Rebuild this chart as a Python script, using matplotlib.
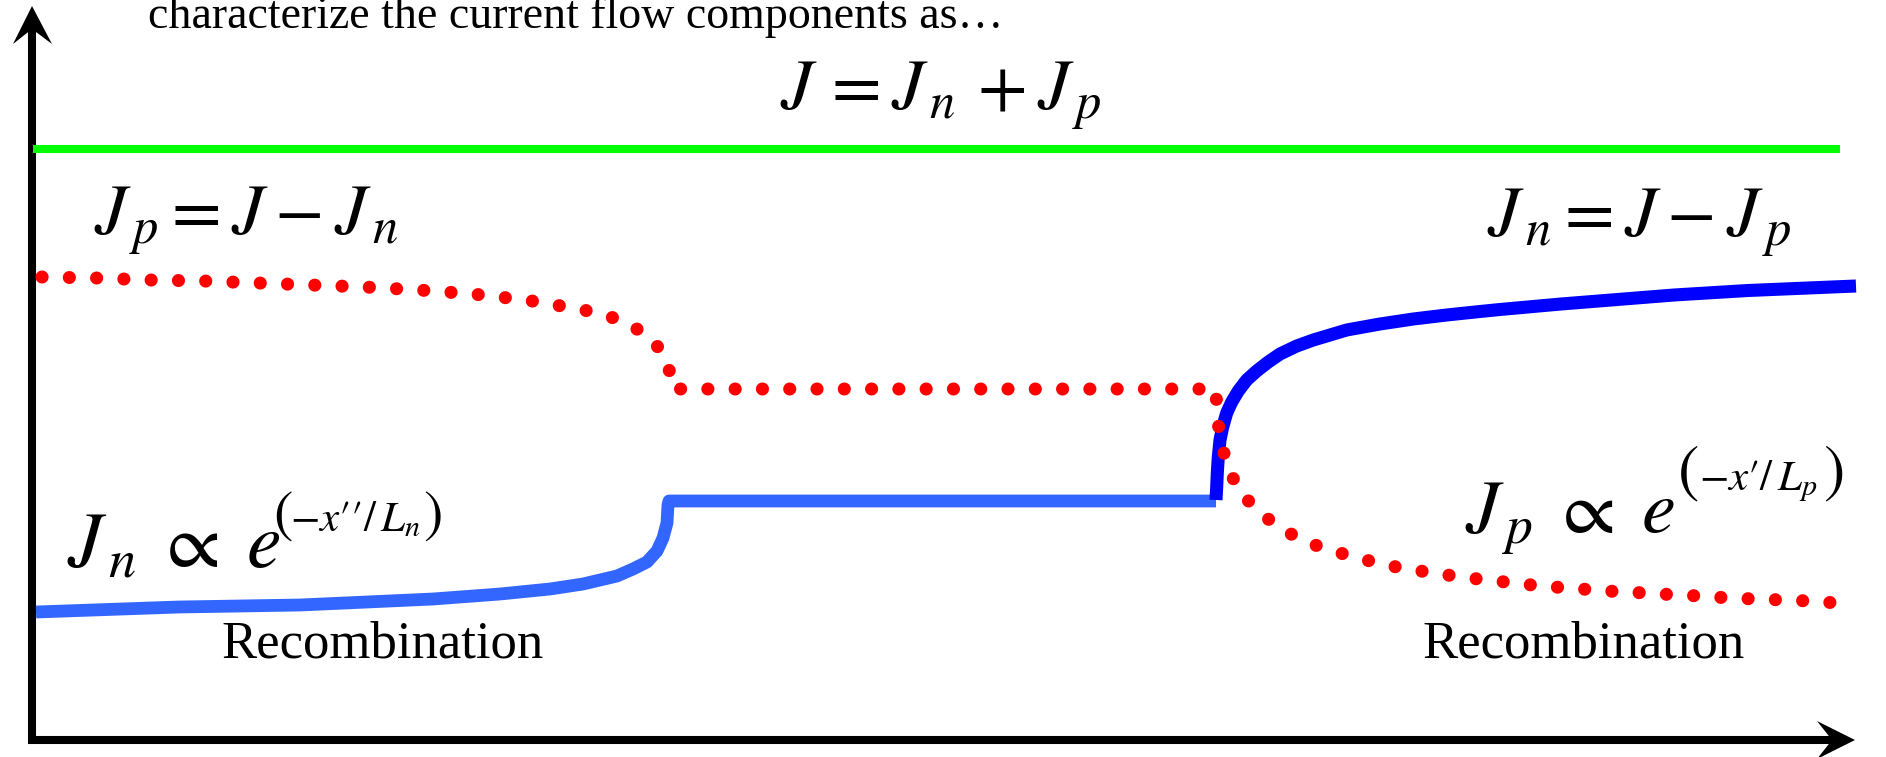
import matplotlib
matplotlib.use("Agg")
import matplotlib.pyplot as plt
from matplotlib.patches import Polygon

plt.rcParams['mathtext.fontset'] = 'stix'
plt.rcParams['font.family'] = ['Liberation Serif', 'DejaVu Serif']

# total current density, constant across the device
x_total = [1, 1808]
j_total = [591, 591]

# hole current: near J on the n side, flat across the depletion region, decays on the p side
x_hole = [10, 64, 118, 171, 226, 279, 333, 387, 441, 494, 547, 574, 599, 621, 636, 640,
          1184, 1185, 1189, 1196, 1208, 1227, 1248, 1272, 1297, 1323, 1349, 1375, 1402,
          1429, 1455, 1482, 1509, 1536, 1563, 1590, 1616, 1644, 1670, 1697, 1724, 1751,
          1778, 1805]
j_hole = [463, 462, 460, 459, 457, 455, 453, 450, 446, 440, 431, 425, 415, 400, 378, 351,
          351, 324, 298, 272, 248, 228, 212, 199, 190, 183, 176, 171, 167,
          163, 160, 157, 154, 152, 150, 148, 147, 145, 144, 142, 141, 140,
          139, 137]

# electron current, minority side (recombination) up to the end of the depletion region
x_elec_left = [4, 147, 268, 335, 401, 468, 518, 551, 585, 601, 615, 625, 631, 635, 636, 637, 1184]
j_elec_left = [128, 133, 135, 138, 141, 146, 151, 156, 164, 171, 178, 189, 202, 217, 235, 239, 239]

# electron current on the n side, J - Jp
x_elec_right = [1184, 1184.7, 1185.3, 1186.3, 1188, 1190.7, 1194.7, 1199.7, 1206.3, 1214.7,
                1224.7, 1236.3, 1248, 1264.7, 1281.3, 1298, 1314.7, 1331.3, 1348, 1381.3,
                1414.7, 1448, 1468, 1529, 1642, 1716, 1824]
j_elec_right = [240, 253, 267, 283, 300, 313, 327, 338, 349, 360,
                369, 378, 386, 394, 400, 405, 410, 413, 416, 421,
                425, 428.5, 430.5, 436, 445, 449.5, 454]

fig = plt.figure(figsize=(18.86, 7.57), dpi=100)
ax = fig.add_axes([0, 0, 1, 1])
ax.set_xlim(-32, 1854)
ax.set_ylim(-17, 740)
ax.axis('off')

# axes drawn as arrows
ax.plot([0, 0], [-4, 712], color='black', lw=5.8, solid_capstyle='butt')
ax.plot([-4, 1800], [0, 0], color='black', lw=5.8, solid_capstyle='butt')
ax.add_patch(Polygon([[0, 734], [-19, 696], [0, 711], [20, 696]], closed=True,
                     color='black', lw=0))
ax.add_patch(Polygon([[1823, 0], [1785, 19], [1800, 0], [1785, -19]], closed=True,
                     color='black', lw=0))

ax.plot(x_total, j_total, color='#00ff00', lw=5.8, solid_capstyle='butt')
ax.plot(x_elec_left, j_elec_left, color='#3366ff', lw=9.2, solid_capstyle='butt',
        solid_joinstyle='round')
ax.plot(x_elec_right, j_elec_right, color='#0000ff', lw=9.4, solid_capstyle='butt',
        solid_joinstyle='round')
ax.plot(x_hole, j_hole, color='#ff0000', lw=9.4, linestyle=(0, (0.01, 2.08)),
        dash_capstyle='round')

ax.text(116, 712, 'characterize the current flow components as\u2026', fontsize=33,
        ha='left', va='baseline')
ax.text(748, 630, r'$J\,=J_{\,n}\,+J_{\,p}$', fontsize=52, ha='left', va='baseline')
ax.text(62, 505, r'$J_{\,p}=J-J_{\,n}$', fontsize=52, ha='left', va='baseline')
ax.text(1455, 503, r'$J_{\,n}=J-J_{\,p}$', fontsize=52, ha='left', va='baseline')


def exponent(x_open, x_close, base, body, size_paren):
    # exponent with tall brackets around a smaller body
    ax.text(x_open, base, '$($', fontsize=size_paren, ha='left', va='baseline')
    ax.text((x_open + x_close) / 2 - 2, base, body, fontsize=31, ha='center', va='baseline')
    ax.text(x_close, base, '$)$', fontsize=size_paren, ha='right', va='baseline')


ax.text(35, 173, r'$J_{\,n}\;\propto\;e$', fontsize=56, ha='left', va='baseline')
exponent(241, 410, 209, r'$-x{\prime\prime}/\,L_n$', 42)
ax.text(1433, 207, r'$J_{\,p}\;\propto\;e$', fontsize=55, ha='left', va='baseline')
exponent(1645, 1811, 250, r'$-x{\prime}/\,L_p$', 46)

ax.text(351, 82, 'Recombination', fontsize=38, ha='center', va='baseline')
ax.text(1552, 82, 'Recombination', fontsize=38, ha='center', va='baseline')

fig.savefig('out.png', dpi=100)
